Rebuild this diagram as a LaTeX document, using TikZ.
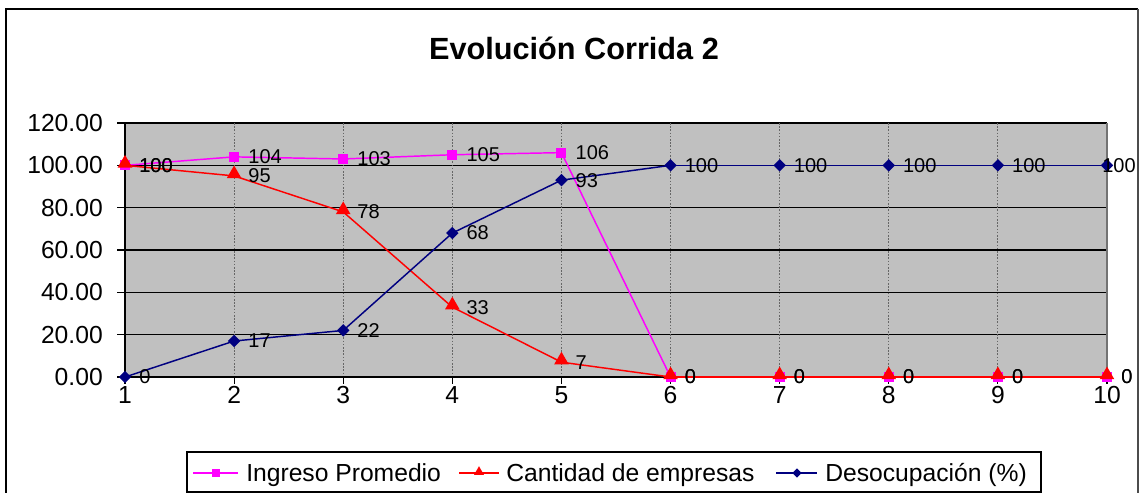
\documentclass[tikz,border=0pt]{standalone}
\usepackage{fontspec}
\setmainfont{Liberation Sans}
\usetikzlibrary{arrows.meta,calc,shapes.geometric}
\definecolor{plotgray}{RGB}{192,192,192}
\definecolor{ingcol}{RGB}{255,0,255}
\definecolor{cantcol}{RGB}{255,0,0}
\definecolor{descol}{RGB}{0,0,128}
\tikzset{%
        every node/.style = {inner sep=0pt},
        tick/.style = {font=\fontsize{18.5}{20}\selectfont},
        dfont/.style = {font=\fontsize{15}{16}\selectfont},
        dlabel/.style = {dfont, anchor=west, xshift=10.5pt},
        grid line/.style = {draw=black, line width=0.9pt},
        cat line/.style = {draw=black!60, line width=0.6pt, dash pattern=on 1.2pt off 1.2pt},
        ingline/.style = {draw=ingcol, line width=1.1pt},
        cantline/.style = {draw=cantcol, line width=1.1pt},
        desline/.style = {draw=descol, line width=1.1pt},
        ingmark/.style = {rectangle, fill=ingcol, minimum size=7.5pt},
        cantmark/.style = {isosceles triangle, isosceles triangle apex angle=60,
            shape border rotate=90, fill=cantcol, minimum size=9.5pt},
        desmark/.style = {diamond, fill=descol, minimum size=9.5pt}
}

\begin{document}
\begin{tikzpicture}[x=0.75pt, y=-0.75pt]
    \useasboundingbox (0,0) rectangle (1140,493);
    % chart frame
    \draw[line width=1.8pt] (6,493) -- (6,9) -- (1138,9);
    \draw[line width=1.2pt, black!70] (1138,9) -- (1138,493);
    \node[anchor=base, font=\bfseries\fontsize{23}{25}\selectfont] (title) at (574,59) {Evolución Corrida 2};

    % plot area
    \fill[plotgray] (125,123) rectangle (1107,377);
    \foreach \v in {20,40,...,120}
        \draw[grid line] (125,{377-\v*2.1167}) -- (1107,{377-\v*2.1167});
    \foreach \i in {2,...,9}
        \draw[cat line] ({125+(\i-1)*109.111},123) -- ({125+(\i-1)*109.111},377);
    \draw[black!55, line width=1pt] (1107,123) -- (1107,377);
    \draw[grid line] (125,123) -- (125,377) -- (1107,377);

    % axes
    \foreach \v in {0,20,...,120} {
        \draw[black, line width=0.9pt] (117,{377-\v*2.1167}) -- (125,{377-\v*2.1167});
        \node[tick, anchor=east] (y\v) at (103,{377-\v*2.1167}) {\v.00};
    }
    \foreach \i in {1,...,10} {
        \draw[black, line width=0.9pt] ({125+(\i-1)*109.111},377) -- ({125+(\i-1)*109.111},384);
        \node[tick] (x\i) at ({125+(\i-1)*109.111},395) {\i};
    }

    % Ingreso Promedio
    \foreach \v [count=\i] in {100,104,103,105,106,0,0,0,0,0}
        \coordinate (ing\i) at ({125+(\i-1)*109.111},{377-\v*2.1167});
    \foreach \i [evaluate=\i as \j using int(\i+1)] in {1,...,9}
        \draw[ingline] (ing\i) -- (ing\j);
    \foreach \i in {1,...,10}
        \node[ingmark] at (ing\i) {};

    % Cantidad de empresas
    \foreach \v [count=\i] in {100,95,78,33,7,0,0,0,0,0}
        \coordinate (cant\i) at ({125+(\i-1)*109.111},{377-\v*2.1167});
    \foreach \i [evaluate=\i as \j using int(\i+1)] in {1,...,9}
        \draw[cantline] (cant\i) -- (cant\j);
    \foreach \i in {1,...,10}
        \node[cantmark] at ($(cant\i)+(0,-2)$) {};

    % Desocupacion
    \foreach \v [count=\i] in {0,17,22,68,93,100,100,100,100,100}
        \coordinate (des\i) at ({125+(\i-1)*109.111},{377-\v*2.1167});
    \foreach \i [evaluate=\i as \j using int(\i+1)] in {1,...,9}
        \draw[desline] (des\i) -- (des\j);
    \foreach \i in {1,...,10}
        \node[desmark] at (des\i) {};

    % data labels
    \foreach \v [count=\i] in {100,104,103,105,106,0,0,0,0,0}
        \node[dlabel] (ingl\i) at (ing\i) {\v};
    \foreach \v [count=\i] in {100,95,78,33,7,0,0,0,0,0}
        \node[dlabel] (cantl\i) at (cant\i) {\v};
    \foreach \v [count=\i] in {0,17,22,68,93,100,100,100,100}
        \node[dlabel] (desl\i) at (des\i) {\v};
    \node[dfont, anchor=east] (desl10) at ($(des10)+(29,0)$) {100};

    % legend
    \draw[black, line width=1pt] (187,452) rectangle (1041,492);
    \draw[ingline] (193,473) -- (238,473);
    \node[ingmark, minimum size=6pt] (legi) at (216,473) {};
    \node[tick, anchor=base west] (legit) at (246,481) {Ingreso Promedio};
    \draw[cantline] (459,473) -- (499,473);
    \node[cantmark, minimum size=6.5pt] (legc) at (479,472) {};
    \node[tick, anchor=base west] (legct) at (506,481) {Cantidad de empresas};
    \draw[desline] (776,473) -- (817,473);
    \node[desmark, minimum size=7pt] (legd) at (797,473) {};
    \node[tick, anchor=base west] (legdt) at (825,481) {Desocupación (\%)};
\end{tikzpicture}
\end{document}
